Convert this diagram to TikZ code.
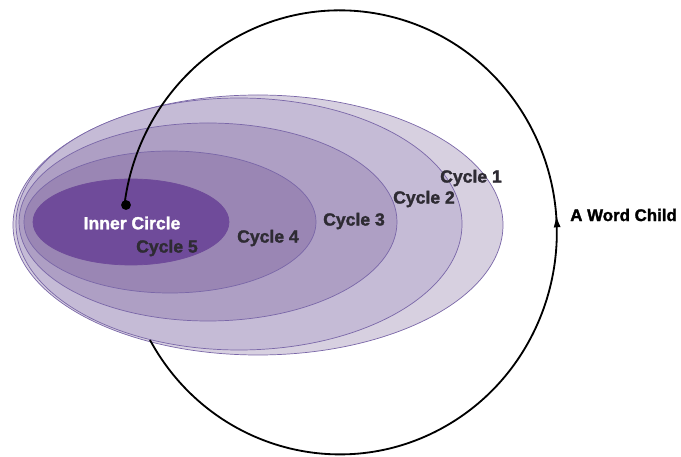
\documentclass[tikz,border=0pt]{standalone}
\usepackage{fontspec}
\setmainfont{Liberation Sans}[BoldFeatures={FakeBold=1.6}]
\usepackage{tikz}
\usetikzlibrary{arrows.meta, decorations.markings}
\definecolor{cycA}{HTML}{D7D0E0}
\definecolor{cycB}{HTML}{C5BBD6}
\definecolor{cycC}{HTML}{AE9FC4}
\definecolor{cycD}{HTML}{9A86B4}
\definecolor{cycE}{HTML}{6F4B9A}
\definecolor{ringline}{HTML}{7A67A8}
\definecolor{labelgray}{HTML}{2E2B33}
\tikzset{
ring/.style={draw=ringline, line width=0.5pt}, % thin purple outline of every cycle
cyclelabel/.style={font=\bfseries\fontsize{12.5}{14}\selectfont, text=labelgray}, % dark text on the cycles
hub/.style={circle, fill=black, inner sep=0pt, minimum size=7pt}, % the dot in the inner circle
orbit/.style={line width=1.3pt, postaction={decorate}, % the big loop with its arrow
  decoration={markings, mark=at position 0.48 with {\arrow{Latex[length=9pt,width=5pt]}}}},
}

\begin{document}
\begin{tikzpicture}[x=0.025cm, y=-0.025cm]
    \useasboundingbox (0,0) rectangle (681,457);

    % the cycles, outermost first
    \draw[ring, fill=cycA] (258,225) ellipse [x radius=245, y radius=130];
    \draw[ring, fill=cycB] (239,224) ellipse [x radius=223, y radius=126];
    \draw[ring, fill=cycC] (208,222) ellipse [x radius=189, y radius=99];
    \draw[ring, fill=cycD] (170,222) ellipse [x radius=146, y radius=71];
    \draw[ring, draw=cycE, fill=cycE] (131,222) ellipse [x radius=98, y radius=43];

    \node[cyclelabel] (c1) at (471,178) {Cycle 1};
    \node[cyclelabel] (c2) at (424,199) {Cycle 2};
    \node[cyclelabel] (c3) at (354,221) {Cycle 3};
    \node[cyclelabel] (c4) at (268,238) {Cycle 4};
    \node[cyclelabel] (c5) at (167,248) {Cycle 5};
    \node[cyclelabel, text=white] (inner) at (132,223) {Inner Circle};

    % the loop from the edge of the cycles round to the dot
    \coordinate (start) at (150,340);
    \node[hub] (ic) at (126,205) {};
    \draw[orbit] (start) arc[start angle=151, end angle=-173, x radius=217, y radius=222];

    \node[cyclelabel, font=\bfseries\fontsize{12}{14}\selectfont, text=black, anchor=west, inner sep=0pt] (child) at (570,215) {A Word Child};
\end{tikzpicture}
\end{document}
